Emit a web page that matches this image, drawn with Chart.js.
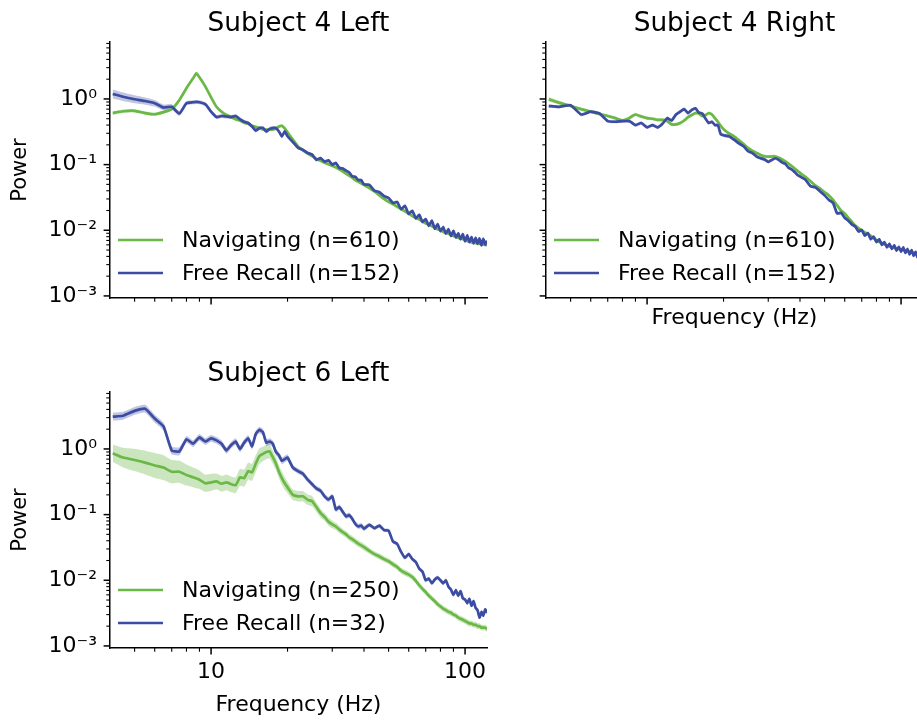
<!DOCTYPE html>
<html>
<head>
<meta charset="utf-8">
<script src="https://cdn.jsdelivr.net/npm/chart.js@4.4.1/dist/chart.umd.min.js"></script>
<style>
  body { margin: 0; width: 917px; height: 721px; overflow: hidden; background: #fff; position: relative; }
  canvas { position: absolute; }
</style>
</head>
<body>
<canvas id="p1" width="500" height="330" style="left:0;top:0"></canvas>
<canvas id="p2" width="500" height="335" style="left:436px;top:0"></canvas>
<canvas id="p3" width="500" height="373" style="left:0;top:348px"></canvas>
<script>
// DATA
const freqHz = [4.1, 4.5, 5, 5.5, 6, 6.5, 7, 7.5, 8, 8.5, 8.75, 9, 9.5, 10, 10.5, 11, 11.5, 12, 12.5, 13, 13.5, 14, 14.5, 15, 15.5, 16, 16.5, 17, 17.5, 18, 18.5, 19, 19.5, 20,
  21, 22, 23, 24, 25, 26, 27, 28, 29, 30, 31, 32, 33, 34, 35, 36, 37, 38, 39, 40,
  42, 44, 46, 48, 50, 52, 54, 56, 58, 60, 62, 64, 66, 68, 70, 72, 74, 76, 78, 80,
  82, 84, 86, 88, 90, 92, 94, 96, 98, 100, 102, 104, 106, 108, 110, 112, 114, 116, 118, 120, 122];

// Subject 4 Left
const nav4L = [0.61, 0.65, 0.66, 0.61, 0.585, 0.63, 0.70, 0.96, 1.46, 2.07, 2.45, 2.14, 1.54, 1.06, 0.76, 0.64, 0.57, 0.53, 0.49, 0.47, 0.435, 0.42, 0.39, 0.375, 0.36, 0.345, 0.34, 0.34, 0.345, 0.355, 0.38, 0.39, 0.355, 0.31,
  0.24, 0.19, 0.165, 0.148, 0.135, 0.122, 0.114, 0.107, 0.101, 0.096, 0.091, 0.085, 0.079, 0.073, 0.068, 0.063, 0.058, 0.055, 0.052, 0.049,
  0.044, 0.039, 0.034, 0.030, 0.027, 0.025, 0.023, 0.021, 0.0195, 0.018, 0.0165, 0.0155, 0.0147, 0.0136, 0.0128, 0.0121, 0.0116, 0.0109, 0.0104, 0.0100,
  0.0095, 0.0091, 0.0089, 0.0085, 0.0082, 0.0080, 0.0077, 0.0075, 0.0074, 0.0071, 0.0069, 0.0068, 0.0066, 0.0065, 0.0064, 0.0063, 0.0062, 0.0061, 0.0061, 0.0060, 0.0060];
const rec4L = [1.19, 1.08, 0.99, 0.93, 0.86, 0.74, 0.76, 0.60, 0.86, 0.89, 0.90, 0.89, 0.83, 0.64, 0.53, 0.55, 0.54, 0.53, 0.55, 0.49, 0.45, 0.43, 0.38, 0.33, 0.36, 0.36, 0.32, 0.35, 0.36, 0.36, 0.32, 0.27, 0.32, 0.27,
  0.22, 0.18, 0.168, 0.150, 0.142, 0.118, 0.126, 0.111, 0.116, 0.100, 0.106, 0.089, 0.087, 0.081, 0.076, 0.066, 0.065, 0.058, 0.058, 0.050,
  0.049, 0.040, 0.038, 0.033, 0.031, 0.026, 0.027, 0.021, 0.0235, 0.0178, 0.0198, 0.0152, 0.0172, 0.0134, 0.0148, 0.0117, 0.0140, 0.0106, 0.0124, 0.0097,
  0.0112, 0.0089, 0.0104, 0.0082, 0.0098, 0.0078, 0.0090, 0.0073, 0.0087, 0.0068, 0.0084, 0.0066, 0.0079, 0.0063, 0.0077, 0.0062, 0.0075, 0.0059, 0.0074, 0.0061, 0.0069];
const nav4LErr = [0.025, 0.025, 0.025, 0.025, 0.025, 0.025, 0.025, 0.025, 0.025, 0.025, 0.025, 0.025, 0.025, 0.025, 0.025, 0.025, 0.025, 0.025, 0.025, 0.025, 0.025, 0.025, 0.025, 0.025, 0.025, 0.025, 0.025, 0.025, 0.025, 0.025, 0.025, 0.025, 0.025, 0.025,
  0.025, 0.025, 0.025, 0.025, 0.025, 0.025, 0.025, 0.025, 0.025, 0.025, 0.025, 0.025, 0.025, 0.025, 0.025, 0.025, 0.025, 0.025, 0.025, 0.025,
  0.025, 0.025, 0.025, 0.025, 0.025, 0.025, 0.025, 0.025, 0.025, 0.025, 0.025, 0.025, 0.025, 0.025, 0.025, 0.025, 0.025, 0.025, 0.025, 0.025,
  0.025, 0.025, 0.025, 0.025, 0.025, 0.025, 0.025, 0.025, 0.025, 0.025, 0.025, 0.025, 0.025, 0.025, 0.025, 0.025, 0.025, 0.025, 0.025, 0.025, 0.025];
const rec4LErr = [0.07, 0.065, 0.06, 0.055, 0.05, 0.045, 0.04, 0.035, 0.03, 0.03, 0.03, 0.03, 0.03, 0.03, 0.03, 0.03, 0.03, 0.03, 0.03, 0.03, 0.03, 0.03, 0.03, 0.03, 0.03, 0.03, 0.03, 0.03, 0.03, 0.03, 0.03, 0.03, 0.03, 0.03,
  0.025, 0.025, 0.025, 0.025, 0.025, 0.025, 0.025, 0.025, 0.025, 0.025, 0.025, 0.025, 0.025, 0.025, 0.025, 0.025, 0.025, 0.025, 0.025, 0.025,
  0.025, 0.025, 0.025, 0.025, 0.025, 0.025, 0.025, 0.025, 0.025, 0.025, 0.025, 0.025, 0.025, 0.025, 0.025, 0.025, 0.025, 0.025, 0.025, 0.025,
  0.025, 0.025, 0.025, 0.025, 0.025, 0.025, 0.025, 0.025, 0.025, 0.025, 0.025, 0.025, 0.025, 0.025, 0.025, 0.025, 0.025, 0.025, 0.025, 0.025, 0.025];

// Subject 4 Right
const nav4R = [0.99, 0.88, 0.78, 0.70, 0.64, 0.59, 0.55, 0.51, 0.47, 0.51, 0.55, 0.58, 0.54, 0.51, 0.50, 0.48, 0.48, 0.46, 0.41, 0.41, 0.43, 0.47, 0.53, 0.57, 0.61, 0.60, 0.55, 0.57, 0.61, 0.58, 0.51, 0.45, 0.39, 0.345,
  0.30, 0.27, 0.235, 0.205, 0.178, 0.162, 0.150, 0.140, 0.134, 0.132, 0.133, 0.133, 0.127, 0.120, 0.112, 0.104, 0.096, 0.088, 0.081, 0.075,
  0.065, 0.056, 0.048, 0.043, 0.038, 0.034, 0.029, 0.024, 0.020, 0.018, 0.0155, 0.0135, 0.0118, 0.0108, 0.0099, 0.0093, 0.0088, 0.0082, 0.0076, 0.0071,
  0.0067, 0.0064, 0.0061, 0.0059, 0.0057, 0.0055, 0.0054, 0.0053, 0.0052, 0.0051, 0.0050, 0.0049, 0.0048, 0.0047, 0.0046, 0.0045, 0.0044, 0.0043, 0.0042, 0.0041, 0.0040];
const rec4R = [0.78, 0.76, 0.80, 0.58, 0.64, 0.60, 0.46, 0.45, 0.46, 0.46, 0.43, 0.40, 0.43, 0.37, 0.40, 0.37, 0.42, 0.51, 0.47, 0.58, 0.64, 0.70, 0.61, 0.68, 0.72, 0.62, 0.60, 0.50, 0.43, 0.45, 0.40, 0.40, 0.29, 0.28,
  0.27, 0.24, 0.21, 0.19, 0.160, 0.150, 0.132, 0.125, 0.120, 0.110, 0.118, 0.125, 0.118, 0.108, 0.103, 0.090, 0.085, 0.078, 0.070, 0.066,
  0.059, 0.047, 0.045, 0.039, 0.034, 0.029, 0.026, 0.018, 0.0185, 0.0155, 0.0140, 0.0123, 0.0114, 0.0096, 0.0101, 0.0083, 0.0091, 0.0073, 0.0080, 0.0066,
  0.0073, 0.0060, 0.0066, 0.0055, 0.0062, 0.0052, 0.0059, 0.0049, 0.0056, 0.0047, 0.0055, 0.0045, 0.0052, 0.0043, 0.0050, 0.0041, 0.0047, 0.0039, 0.0045, 0.0038, 0.0042];
const nav4RErr = [0.035, 0.03, 0.025, 0.025, 0.025, 0.025, 0.025, 0.025, 0.025, 0.025, 0.025, 0.025, 0.025, 0.025, 0.025, 0.025, 0.025, 0.025, 0.025, 0.025, 0.025, 0.025, 0.025, 0.025, 0.025, 0.025, 0.025, 0.025, 0.025, 0.025, 0.025, 0.025, 0.025, 0.025,
  0.025, 0.025, 0.025, 0.025, 0.025, 0.025, 0.025, 0.025, 0.025, 0.025, 0.025, 0.025, 0.025, 0.025, 0.025, 0.025, 0.025, 0.025, 0.025, 0.025,
  0.022, 0.022, 0.022, 0.022, 0.022, 0.022, 0.022, 0.022, 0.022, 0.022, 0.022, 0.022, 0.022, 0.022, 0.022, 0.022, 0.022, 0.022, 0.022, 0.022,
  0.022, 0.022, 0.022, 0.022, 0.022, 0.022, 0.022, 0.022, 0.022, 0.022, 0.022, 0.022, 0.022, 0.022, 0.022, 0.022, 0.022, 0.022, 0.022, 0.022, 0.022];
const rec4RErr = [0.025, 0.025, 0.025, 0.025, 0.025, 0.025, 0.025, 0.025, 0.025, 0.025, 0.025, 0.025, 0.025, 0.025, 0.025, 0.025, 0.025, 0.025, 0.025, 0.025, 0.025, 0.025, 0.025, 0.025, 0.025, 0.025, 0.025, 0.025, 0.025, 0.025, 0.025, 0.025, 0.025, 0.025,
  0.025, 0.025, 0.025, 0.025, 0.025, 0.025, 0.025, 0.025, 0.025, 0.025, 0.025, 0.025, 0.025, 0.025, 0.025, 0.025, 0.025, 0.025, 0.025, 0.025,
  0.022, 0.022, 0.022, 0.022, 0.022, 0.022, 0.022, 0.022, 0.022, 0.022, 0.022, 0.022, 0.022, 0.022, 0.022, 0.022, 0.022, 0.022, 0.022, 0.022,
  0.022, 0.022, 0.022, 0.022, 0.022, 0.022, 0.022, 0.022, 0.022, 0.022, 0.022, 0.022, 0.022, 0.022, 0.022, 0.022, 0.022, 0.022, 0.022, 0.022, 0.022];

// Subject 6 Left
const nav6L = [0.86, 0.74, 0.68, 0.62, 0.56, 0.52, 0.45, 0.45, 0.40, 0.37, 0.355, 0.34, 0.30, 0.31, 0.32, 0.295, 0.31, 0.29, 0.28, 0.37, 0.36, 0.46, 0.44, 0.60, 0.78, 0.84, 0.90, 0.92, 0.75, 0.60, 0.45, 0.36, 0.30, 0.26,
  0.20, 0.19, 0.19, 0.168, 0.16, 0.13, 0.105, 0.092, 0.078, 0.071, 0.066, 0.059, 0.054, 0.050, 0.045, 0.042, 0.039, 0.036, 0.034, 0.032,
  0.028, 0.025, 0.023, 0.021, 0.0195, 0.0175, 0.016, 0.014, 0.013, 0.0122, 0.0112, 0.0098, 0.0084, 0.0074, 0.0066, 0.0058, 0.0053, 0.0048, 0.0043, 0.0040,
  0.0037, 0.0035, 0.0033, 0.0032, 0.0030, 0.0029, 0.0027, 0.0026, 0.0025, 0.0024, 0.0023, 0.0022, 0.0022, 0.0021, 0.0021, 0.0020, 0.0020, 0.0019, 0.0019, 0.0019, 0.0018];
const rec6L = [3.1, 3.2, 3.8, 4.1, 2.9, 2.2, 0.95, 0.92, 1.40, 1.20, 1.35, 1.50, 1.30, 1.45, 1.35, 1.20, 0.95, 1.15, 1.30, 1.00, 1.25, 1.45, 1.10, 1.70, 1.95, 1.80, 1.25, 1.30, 1.20, 0.90, 0.80, 0.66, 0.70, 0.74,
  0.52, 0.46, 0.42, 0.34, 0.29, 0.25, 0.23, 0.19, 0.17, 0.19, 0.12, 0.13, 0.11, 0.094, 0.098, 0.086, 0.072, 0.066, 0.068, 0.061,
  0.070, 0.062, 0.068, 0.058, 0.057, 0.039, 0.036, 0.027, 0.022, 0.025, 0.021, 0.019, 0.015, 0.0135, 0.0100, 0.0106, 0.0090, 0.0103, 0.0110, 0.0100,
  0.0090, 0.0100, 0.0080, 0.0072, 0.0060, 0.0071, 0.0058, 0.0068, 0.0053, 0.0051, 0.0045, 0.0052, 0.0041, 0.0048, 0.0038, 0.0035, 0.0027, 0.0033, 0.0029, 0.0036, 0.0032];
const nav6LErr = [0.13, 0.15, 0.17, 0.18, 0.19, 0.19, 0.18, 0.17, 0.16, 0.15, 0.15, 0.14, 0.13, 0.13, 0.12, 0.12, 0.12, 0.12, 0.12, 0.13, 0.13, 0.13, 0.13, 0.13, 0.12, 0.11, 0.11, 0.11, 0.10, 0.10, 0.10, 0.10, 0.10, 0.09,
  0.08, 0.08, 0.08, 0.08, 0.08, 0.07, 0.07, 0.06, 0.06, 0.06, 0.055, 0.055, 0.05, 0.05, 0.05, 0.05, 0.05, 0.05, 0.05, 0.05,
  0.045, 0.045, 0.045, 0.045, 0.045, 0.045, 0.045, 0.045, 0.045, 0.045, 0.045, 0.045, 0.045, 0.045, 0.045, 0.045, 0.045, 0.045, 0.045, 0.045,
  0.045, 0.045, 0.045, 0.045, 0.045, 0.045, 0.045, 0.045, 0.045, 0.045, 0.045, 0.045, 0.045, 0.045, 0.045, 0.045, 0.045, 0.045, 0.045, 0.045, 0.045];
const rec6LErr = [0.06, 0.06, 0.06, 0.06, 0.06, 0.06, 0.06, 0.06, 0.05, 0.05, 0.05, 0.05, 0.05, 0.05, 0.05, 0.05, 0.05, 0.05, 0.05, 0.05, 0.05, 0.05, 0.05, 0.05, 0.05, 0.05, 0.05, 0.05, 0.05, 0.05, 0.05, 0.05, 0.05, 0.05,
  0.04, 0.04, 0.04, 0.04, 0.04, 0.04, 0.04, 0.04, 0.04, 0.04, 0.04, 0.04, 0.04, 0.04, 0.04, 0.04, 0.04, 0.04, 0.04, 0.04,
  0.03, 0.03, 0.03, 0.03, 0.03, 0.03, 0.03, 0.03, 0.03, 0.03, 0.03, 0.03, 0.03, 0.03, 0.03, 0.03, 0.03, 0.03, 0.03, 0.03,
  0.03, 0.03, 0.03, 0.03, 0.03, 0.03, 0.03, 0.03, 0.03, 0.03, 0.03, 0.03, 0.03, 0.03, 0.03, 0.03, 0.03, 0.03, 0.03, 0.03, 0.03];

// TICKS
const xMajorTicks = [10, 100];
const xMajorLabels = ['10', '100'];
const xMinorTicks = [5, 6, 7, 8, 9, 20, 30, 40, 50, 60, 70, 80, 90];
const yMajorTicks = [0.001, 0.01, 0.1, 1];
const yMajorLabels = ['10\u207B\u00B3', '10\u207B\u00B2', '10\u207B\u00B9', '10\u2070'];
const yMinorTicks = [0.002, 0.003, 0.004, 0.005, 0.006, 0.007, 0.008, 0.009,
  0.02, 0.03, 0.04, 0.05, 0.06, 0.07, 0.08, 0.09,
  0.2, 0.3, 0.4, 0.5, 0.6, 0.7, 0.8, 0.9,
  2, 3, 4, 5, 6, 7];

const panelTitles = ['Subject 4 Left', 'Subject 4 Right', 'Subject 6 Left'];
const navLabels = ['Navigating (n=610)', 'Navigating (n=610)', 'Navigating (n=250)'];
const recLabels = ['Free Recall (n=152)', 'Free Recall (n=152)', 'Free Recall (n=32)'];

// STYLE
const THEME = {
  nav: '#6ab845',
  rec: '#3b4ca2',
  navBand: 'rgba(106, 184, 69, 0.35)',
  recBand: 'rgba(59, 76, 162, 0.32)',
  font: '"DejaVu Sans"'
};

Chart.defaults.font.family = THEME.font;
Chart.defaults.color = '#000';

const pts = vals => vals.map((v, i) => ({ x: freqHz[i], y: v }));
const bandPts = (vals, err, sign) => vals.map((v, i) => ({ x: freqHz[i], y: v * Math.pow(10, sign * err[i]) }));

// ticks, title and legend drawn on top of the chart
const decor = {
  id: 'decor',
  afterDraw(chart, args, o) {
    const { ctx, chartArea: a, scales: { x, y } } = chart;
    ctx.save();
    ctx.strokeStyle = '#000';
    [[xMajorTicks, 6.4, 1.5], [xMinorTicks, 3.7, 1.1]].forEach(([vals, len, w]) => {
      ctx.lineWidth = w;
      vals.forEach(v => {
        const px = x.getPixelForValue(v);
        if (px < a.left - 0.5 || px > a.right + 0.5) return;
        ctx.beginPath(); ctx.moveTo(px, a.bottom); ctx.lineTo(px, a.bottom + len); ctx.stroke();
      });
    });
    [[yMajorTicks, 6.4, 1.5], [yMinorTicks, 3.7, 1.1]].forEach(([vals, len, w]) => {
      ctx.lineWidth = w;
      vals.forEach(v => {
        const py = y.getPixelForValue(v);
        if (py < a.top - 0.5 || py > a.bottom + 0.5) return;
        ctx.beginPath(); ctx.moveTo(a.left - len, py); ctx.lineTo(a.left, py); ctx.stroke();
      });
    });

    ctx.fillStyle = '#000';
    ctx.font = '26.4px ' + THEME.font;
    ctx.textAlign = 'center';
    ctx.textBaseline = 'alphabetic';
    ctx.fillText(o.title, (a.left + a.right) / 2, a.top - 11);

    ctx.font = '22px ' + THEME.font;
    ctx.textAlign = 'left';
    ctx.textBaseline = 'middle';
    o.legend.forEach((item, i) => {
      const yy = a.bottom - 58 + i * 33;
      ctx.strokeStyle = item.color;
      ctx.lineWidth = 2.7;
      ctx.beginPath(); ctx.moveTo(a.left + 8, yy); ctx.lineTo(a.left + 53, yy); ctx.stroke();
      ctx.fillText(item.label, a.left + 72, yy + 1);
    });
    ctx.restore();
  }
};

function buildPanel(canvasId, p) {
  const line = (label, vals, color) => ({
    label, data: pts(vals), borderColor: color, borderWidth: 2.7,
    pointRadius: 0, tension: 0.15, fill: false
  });
  const edge = (vals, err, sign, color) => ({
    data: bandPts(vals, err, sign), borderWidth: 0, borderColor: 'transparent',
    pointRadius: 0, tension: 0.15, backgroundColor: color, fill: sign > 0 ? '+1' : false
  });

  return new Chart(document.getElementById(canvasId), {
    type: 'line',
    data: {
      datasets: [
        line(p.recLabel, p.rec, THEME.rec),          // blue drawn last (on top)
        line(p.navLabel, p.nav, THEME.nav),
        edge(p.rec, p.recErr, 1, THEME.recBand),
        edge(p.rec, p.recErr, -1, THEME.recBand),
        edge(p.nav, p.navErr, 1, THEME.navBand),
        edge(p.nav, p.navErr, -1, THEME.navBand)
      ]
    },
    options: {
      responsive: false,
      animation: false,
      layout: { padding: { left: 0, right: 13, top: p.top, bottom: 0 } },
      scales: {
        x: {
          type: 'logarithmic', min: 4, max: 122,
          grid: { display: false, drawTicks: false },
          border: { display: true, color: '#000', width: 1.5 },
          afterBuildTicks: s => { s.ticks = xMajorTicks.concat(xMinorTicks).sort((a, b) => a - b).map(v => ({ value: v })); },
          afterFit: s => { s.height = p.xHeight; },
          ticks: {
            display: p.xLabels, autoSkip: false, maxRotation: 0, padding: 11,
            color: '#000', font: { size: 22 },
            callback: v => { const i = xMajorTicks.indexOf(v); return i >= 0 ? xMajorLabels[i] : ''; }
          },
          title: { display: p.xTitle, text: 'Frequency (Hz)', color: '#000', font: { size: 22 }, padding: { top: 0, bottom: p.xTitlePad } }
        },
        y: {
          type: 'logarithmic', min: 0.00093, max: 7.37,
          grid: { display: false, drawTicks: false },
          border: { display: true, color: '#000', width: 1.5 },
          afterBuildTicks: s => { s.ticks = yMajorTicks.concat(yMinorTicks).sort((a, b) => a - b).map(v => ({ value: v })); },
          afterFit: s => { s.width = 110; },
          ticks: {
            display: p.yLabels, autoSkip: false, padding: 13,
            color: '#000', font: { size: 22 },
            callback: v => { const i = yMajorTicks.indexOf(v); return i >= 0 ? yMajorLabels[i] : ''; }
          },
          title: { display: p.yLabels, text: 'Power', color: '#000', font: { size: 21 }, padding: { top: 8, bottom: 0 } }
        }
      },
      plugins: {
        legend: { display: false },
        tooltip: { enabled: false },
        decor: {
          title: p.title,
          legend: [{ label: p.navLabel, color: THEME.nav }, { label: p.recLabel, color: THEME.rec }]
        }
      }
    },
    plugins: [decor]
  });
}

buildPanel('p1', {
  title: panelTitles[0], navLabel: navLabels[0], recLabel: recLabels[0],
  nav: nav4L, rec: rec4L, navErr: nav4LErr, recErr: rec4LErr,
  top: 42, xHeight: 32, xLabels: false, xTitle: false, xTitlePad: 0, yLabels: true
});
buildPanel('p2', {
  title: panelTitles[1], navLabel: navLabels[1], recLabel: recLabels[1],
  nav: nav4R, rec: rec4R, navErr: nav4RErr, recErr: rec4RErr,
  top: 42, xHeight: 37, xLabels: false, xTitle: true, xTitlePad: 4, yLabels: false
});
buildPanel('p3', {
  title: panelTitles[2], navLabel: navLabels[2], recLabel: recLabels[2],
  nav: nav6L, rec: rec6L, navErr: nav6LErr, recErr: rec6LErr,
  top: 44, xHeight: 73, xLabels: true, xTitle: true, xTitlePad: 3, yLabels: true
});
</script>
</body>
</html>
